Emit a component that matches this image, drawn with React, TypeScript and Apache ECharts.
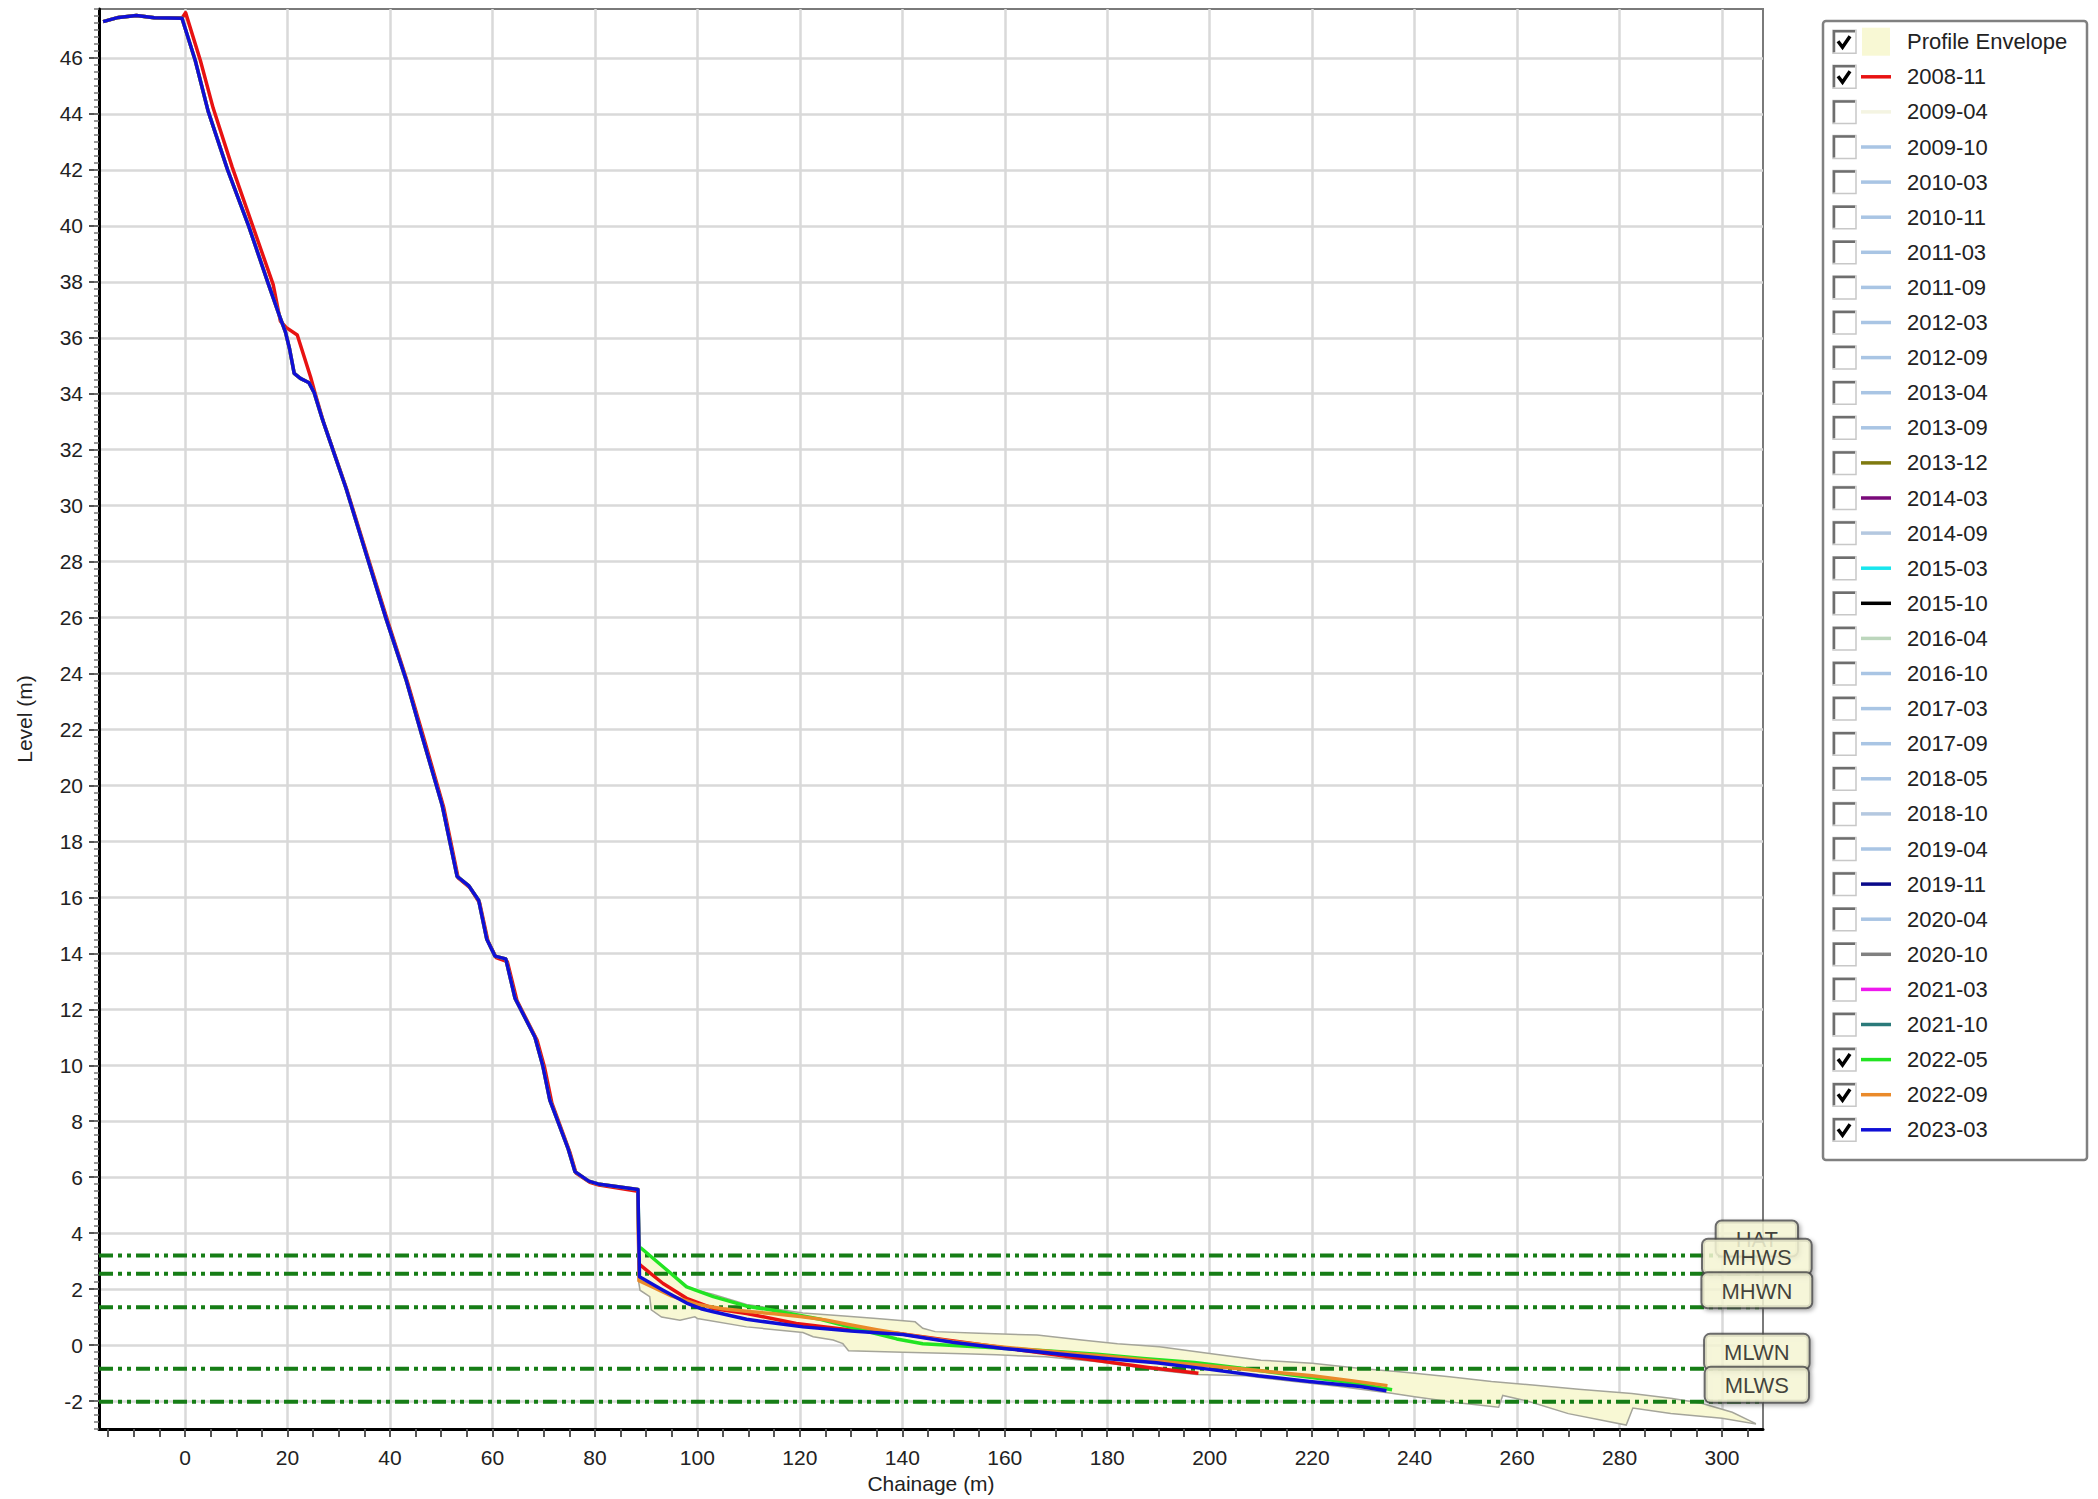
import { useEffect, useRef } from 'react';
import * as echarts from 'echarts';

// ---------- axis ticks ----------
const X_LABELS = [0, 20, 40, 60, 80, 100, 120, 140, 160, 180, 200, 220, 240, 260, 280, 300];
const Y_LABELS = [-2, 0, 2, 4, 6, 8, 10, 12, 14, 16, 18, 20, 22, 24, 26, 28, 30, 32, 34, 36, 38, 40, 42, 44, 46];
const X_MIN = -16.8;
const X_MAX = 308;
const Y_MIN = -3;
const Y_MAX = 47.75;

// ---------- legend ----------
const LEGEND_NAMES = [
  'Profile Envelope', '2008-11', '2009-04', '2009-10', '2010-03', '2010-11', '2011-03', '2011-09',
  '2012-03', '2012-09', '2013-04', '2013-09', '2013-12', '2014-03', '2014-09', '2015-03', '2015-10',
  '2016-04', '2016-10', '2017-03', '2017-09', '2018-05', '2018-10', '2019-04', '2019-11', '2020-04',
  '2020-10', '2021-03', '2021-10', '2022-05', '2022-09', '2023-03',
];
const LEGEND_COLORS = [
  '#f7f7d3', '#e81212', '#f4f4e2', '#a9c5e4', '#a9c5e4', '#a9c5e4', '#a9c5e4', '#a9c5e4',
  '#a9c5e4', '#a9c5e4', '#a9c5e4', '#a9c5e4', '#7f7a10', '#7a0a7a', '#b4c8e0', '#18e6ee', '#000000',
  '#bcd6bc', '#a9c5e4', '#a9c5e4', '#a9c5e4', '#a9c5e4', '#b4c8e0', '#a9c5e4', '#0a0a8a', '#a9c5e4',
  '#808080', '#ee18ee', '#2a7a7a', '#22e422', '#ea8a2a', '#0f0fd6',
];
const CHECKED = [
  true, true, false, false, false, false, false, false,
  false, false, false, false, false, false, false, false, false,
  false, false, false, false, false, false, false, false, false,
  false, false, false, true, true, true,
];

// ---------- profile data (chainage m, level m) ----------
const CLIFF_COMMON: number[][] = [
  [-16, 47.3], [-13, 47.45], [-9.5, 47.52], [-6, 47.44], [-0.6, 47.42], [2, 45.9], [4.5, 44.1],
  [8.3, 42.0], [12.4, 40.0], [16.3, 37.9], [18.4, 36.8], [19.6, 36.2], [20.4, 35.6], [21.3, 34.73],
  [22.5, 34.55], [24.2, 34.39], [25.2, 34.04], [26.8, 33.09], [31.4, 30.63], [35.3, 28.3],
  [39.2, 25.98], [43.1, 23.8], [46.3, 21.74], [50.2, 19.28], [53.1, 16.75], [55.4, 16.41],
  [57.3, 15.9], [58.9, 14.5], [60.5, 13.9], [62.6, 13.8], [64.4, 12.4], [68.3, 11.0], [69.8, 10.0],
  [71.2, 8.75], [74.8, 7.0], [76.1, 6.2], [78.8, 5.86], [80.6, 5.76], [88.4, 5.56],
];
const RED_2008_11: number[][] = [
  [-16, 47.3], [-13, 47.45], [-9.5, 47.52], [-6, 47.44], [-0.5, 47.45], [0.1, 47.62], [3, 45.9],
  [5.5, 44.2], [9.2, 42.1], [13.2, 40.0], [17.2, 37.9], [18.6, 36.6], [19.7, 36.37], [21.9, 36.1],
  [24.5, 34.6], [25.4, 34.0], [27.0, 33.0], [31.7, 30.5], [35.6, 28.2], [39.5, 25.9], [43.4, 23.7],
  [46.6, 21.7], [50.5, 19.2], [53.3, 16.7], [55.6, 16.35], [57.5, 15.8], [59.1, 14.45], [60.7, 13.85],
  [62.9, 13.7], [64.8, 12.3], [68.7, 10.9], [70.2, 9.9], [71.6, 8.65], [75.1, 6.9], [76.3, 6.15],
  [79, 5.82], [80.8, 5.72], [88.4, 5.5], [88.6, 2.9], [89.1, 2.82], [93.3, 2.2], [97.9, 1.67],
  [103.1, 1.31], [109.6, 1.13], [119.3, 0.77], [129.1, 0.56], [138.9, 0.42], [148.6, 0.18],
  [158.4, -0.06], [168, -0.3], [178, -0.55], [188, -0.8], [197.8, -1.01],
];
const GREEN_BEACH_2022_05: number[][] = [
  [88.6, 3.5], [89.1, 3.45], [93.3, 2.8], [97.9, 2.08], [103.1, 1.73], [109.6, 1.39], [114.5, 1.25],
  [119.3, 1.08], [124, 0.92], [129.1, 0.68], [134, 0.45], [138.9, 0.22], [144, 0.05], [150, -0.02],
  [158, -0.1], [168, -0.2], [178, -0.33], [187, -0.48], [197, -0.62], [207, -0.85], [216.5, -1.08],
  [226, -1.3], [235.6, -1.6],
];
const ORANGE_BEACH_2022_09: number[][] = [
  [88.6, 2.3], [91, 2.1], [95, 1.75], [100, 1.45], [105, 1.3], [110, 1.2], [115, 1.12], [120, 1.02],
  [125, 0.9], [130, 0.72], [135, 0.55], [140, 0.4], [145, 0.25], [150, 0.12], [160, -0.08],
  [170, -0.25], [180, -0.4], [190, -0.58], [200, -0.75], [210, -0.92], [220, -1.1], [228, -1.28],
  [234.7, -1.45],
];
const BLUE_BEACH_2023_03: number[][] = [
  [88.7, 2.44], [93.3, 1.96], [97.9, 1.5], [100.7, 1.3], [103.1, 1.19], [109.6, 0.92], [120.6, 0.65],
  [130, 0.5], [140.1, 0.38], [149.8, 0.1], [159.8, -0.12], [169.7, -0.3], [179.7, -0.48],
  [189.6, -0.63], [199.6, -0.86], [209.5, -1.1], [219.5, -1.3], [229.4, -1.48], [234.5, -1.63],
];

const ENVELOPE_UPPER: number[][] = [
  [88.5, 3.5], [89.1, 3.45], [93.3, 2.8], [97.9, 2.1], [100, 1.95], [103, 1.82], [109.6, 1.45],
  [115, 1.3], [120.6, 1.15], [128, 1.05], [135, 0.95], [142.5, 0.83], [144, 0.6], [146.4, 0.48],
  [155, 0.42], [166.3, 0.36], [175, 0.18], [182, 0.05], [190.2, -0.06], [200, -0.3], [210, -0.54],
  [220, -0.65], [230, -0.85], [237, -0.95], [246.8, -1.13], [255, -1.3], [263, -1.43], [272, -1.58],
  [282.4, -1.73], [290, -1.9], [296, -2.08], [302, -2.4], [306.5, -2.8],
];
const ENVELOPE_LOWER: number[][] = [
  [306.5, -2.82], [300, -2.62], [290, -2.45], [282.6, -2.25], [281.3, -2.86], [270, -2.45],
  [262, -2.0], [257.2, -1.8], [256.4, -2.22], [248, -2.05], [240, -1.85], [235.5, -1.72],
  [225, -1.47], [216.5, -1.3], [207, -1.1], [197.4, -1.05], [190, -0.9], [178.2, -0.6], [168, -0.42],
  [158.4, -0.35], [152, -0.31], [140.1, -0.26], [129.5, -0.2], [128.4, 0.05], [126.5, 0.18],
  [122.6, 0.3], [120.6, 0.45], [109.6, 0.65], [100, 0.95], [99.5, 1.01], [96.6, 0.89], [93, 1.0],
  [91, 1.26], [90.7, 1.73], [88.8, 1.96], [88.5, 2.3],
];

// ---------- tide levels ----------
const TIDE_NAMES = ['HAT', 'MHWS', 'MHWN', 'MLWN', 'MLWS'];
const TIDE_VALUES = [3.2, 2.55, 1.35, -0.85, -2.03];

const FONT = '"Liberation Sans", Arial, sans-serif';
const ENVELOPE_FILL = '#f8f8d4';
const TIDE_LABEL_X = 306.8;

const PROFILES: Record<string, number[][]> = {
  '2008-11': RED_2008_11,
  '2022-05': [...CLIFF_COMMON, ...GREEN_BEACH_2022_05],
  '2022-09': [...CLIFF_COMMON, ...ORANGE_BEACH_2022_09],
  '2023-03': [...CLIFF_COMMON, ...BLUE_BEACH_2023_03],
};

const X_MINOR: number[] = [];
for (let v = -15; v <= 305; v += 5) X_MINOR.push(v);
const Y_MINOR: number[] = [];
for (let v = -3; v <= 47.75; v += 0.25) Y_MINOR.push(v);

// legend layout
const LEG_TOP = 27.7;
const LEG_ROW_H = 28;
const LEG_GAP = 7.1;

export default function App() {
  const ref = useRef<HTMLDivElement>(null);

  useEffect(() => {
    if (!ref.current) return;
    const chart = echarts.init(ref.current, null, { renderer: 'svg' });

    const series: any[] = [];
    series.push({
      type: 'custom',
      name: LEGEND_NAMES[0],
      z: 1,
      silent: true,
      itemStyle: { color: ENVELOPE_FILL },
      data: [[ENVELOPE_UPPER[0][0], ENVELOPE_UPPER[0][1]]],
      encode: { x: 0, y: 1 },
      renderItem: (params: any, api: any) => {
        if (params.dataIndex !== 0) return null;
        const pts = [...ENVELOPE_UPPER, ...ENVELOPE_LOWER].map((p) => api.coord(p));
        return {
          type: 'polygon',
          shape: { points: pts },
          style: { fill: ENVELOPE_FILL, stroke: '#a5a59a', lineWidth: 1.5 },
        };
      },
    });

    TIDE_VALUES.forEach((v, i) => {
      series.push({
        type: 'line',
        name: 'tide-' + TIDE_NAMES[i],
        z: 2,
        silent: true,
        symbol: 'none',
        data: [[X_MIN, v], [X_MAX, v]],
        lineStyle: { color: '#167d16', width: 4, type: [14, 5, 4, 5, 4, 5] },
      });
    });

    for (let i = 1; i < LEGEND_NAMES.length; i++) {
      const name = LEGEND_NAMES[i];
      series.push({
        type: 'line',
        name,
        z: 3,
        symbol: 'none',
        color: LEGEND_COLORS[i],
        itemStyle: { color: LEGEND_COLORS[i] },
        lineStyle: { color: LEGEND_COLORS[i], width: 3.5, join: 'round' },
        data: PROFILES[name] || [],
      });
    }

    series.push({
      type: 'scatter',
      name: 'tide-labels',
      z: 10,
      silent: true,
      symbolSize: 0,
      data: TIDE_NAMES.map((n, i) => [TIDE_LABEL_X, TIDE_VALUES[i], n]),
      label: {
        show: true,
        position: 'top',
        distance: 0,
        formatter: (p: any) => p.data[2],
        fontFamily: FONT,
        fontSize: 22,
        lineHeight: 22,
        color: '#111',
        backgroundColor: '#fbfbda',
        borderColor: '#4a4a4a',
        borderWidth: 2,
        borderRadius: 5,
        padding: [7, 19, 5, 19],
        shadowColor: 'rgba(0,0,0,0.35)',
        shadowBlur: 4,
        shadowOffsetX: 2,
        shadowOffsetY: 2,
      },
    });

    const graphics: any[] = [
      {
        type: 'rect',
        z: 0,
        silent: true,
        shape: { x: 1823, y: 21, width: 264, height: 1139, r: 3 },
        style: { fill: '#ffffff', stroke: '#808080', lineWidth: 2.5 },
      },
    ];
    for (let i = 0; i < LEGEND_NAMES.length; i++) {
      const cy = LEG_TOP + LEG_ROW_H / 2 + i * (LEG_ROW_H + LEG_GAP);
      const x0 = 1833;
      const y0 = cy - 11.5;
      graphics.push({
        type: 'rect',
        z: 10,
        silent: true,
        shape: { x: x0, y: y0, width: 23, height: 23 },
        style: { fill: '#ffffff', stroke: '#c8c8c8', lineWidth: 1.5 },
      });
      graphics.push({
        type: 'polyline',
        z: 11,
        silent: true,
        shape: { points: [[x0 + 1, y0 + 22], [x0 + 1, y0 + 1], [x0 + 22, y0 + 1]] },
        style: { stroke: '#6e6e6e', lineWidth: 2.5, fill: null },
      });
      if (CHECKED[i]) {
        graphics.push({
          type: 'polyline',
          z: 12,
          silent: true,
          shape: { points: [[x0 + 5, y0 + 11], [x0 + 9.5, y0 + 17], [x0 + 17, y0 + 6]] },
          style: { stroke: '#000000', lineWidth: 3.5, fill: null, lineJoin: 'miter' },
        });
      }
    }

    const option: any = {
      animation: false,
      backgroundColor: '#ffffff',
      textStyle: { fontFamily: FONT },
      grid: {
        left: 99,
        right: 335,
        top: 9,
        bottom: 70,
        show: true,
        borderColor: '#7a7a7a',
        borderWidth: 2,
      },
      legend: {
        orient: 'vertical',
        left: 1861,
        top: LEG_TOP,
        padding: 0,
        itemGap: LEG_GAP,
        itemWidth: 30,
        itemHeight: LEG_ROW_H,
        selectedMode: false,
        symbolKeepAspect: true,
        textStyle: {
          fontFamily: FONT,
          fontSize: 22,
          lineHeight: LEG_ROW_H,
          height: LEG_ROW_H,
          color: '#222',
          padding: [0, 0, 0, 11],
        },
        data: LEGEND_NAMES.map((n, i) =>
          i === 0
            ? { name: n, icon: 'path://M0,0H28V28H0Z', itemStyle: { color: ENVELOPE_FILL, borderWidth: 0 } }
            : {
                name: n,
                icon: 'path://M0,0H30V3.5H0Z',
                itemStyle: { color: LEGEND_COLORS[i], borderWidth: 0 },
              }
        ),
      },
      xAxis: [
        {
          type: 'value',
          min: X_MIN,
          max: X_MAX,
          name: 'Chainage (m)',
          nameLocation: 'middle',
          nameGap: 44,
          nameTextStyle: { fontFamily: FONT, fontSize: 21, color: '#222' },
          axisLine: { show: true, onZero: false, lineStyle: { color: '#000', width: 3 } },
          axisTick: { show: true, customValues: X_LABELS, length: 8, lineStyle: { color: '#555', width: 2 } },
          axisLabel: { customValues: X_LABELS, fontFamily: FONT, fontSize: 21, color: '#222', margin: 18 },
          splitLine: { show: true, lineStyle: { color: '#d9d9d9', width: 2.5 } },
        },
        {
          type: 'value',
          min: X_MIN,
          max: X_MAX,
          position: 'bottom',
          axisLine: { show: false, onZero: false },
          axisTick: { show: true, customValues: X_MINOR, length: 8, lineStyle: { color: '#555', width: 2 } },
          axisLabel: { show: false },
          splitLine: { show: false },
        },
      ],
      yAxis: [
        {
          type: 'value',
          min: Y_MIN,
          max: Y_MAX,
          name: 'Level (m)',
          nameLocation: 'middle',
          nameGap: 64,
          nameTextStyle: { fontFamily: FONT, fontSize: 21, color: '#222' },
          axisLine: { show: true, onZero: false, lineStyle: { color: '#000', width: 3 } },
          axisTick: { show: true, customValues: Y_LABELS, length: 10, lineStyle: { color: '#555', width: 2 } },
          axisLabel: { customValues: Y_LABELS, fontFamily: FONT, fontSize: 21, color: '#222', margin: 16 },
          splitLine: { show: true, lineStyle: { color: '#d9d9d9', width: 2.5 } },
        },
        {
          type: 'value',
          min: Y_MIN,
          max: Y_MAX,
          position: 'left',
          axisLine: { show: false, onZero: false },
          axisTick: { show: true, customValues: Y_MINOR, length: 5, lineStyle: { color: '#777', width: 1.5 } },
          axisLabel: { show: false },
          splitLine: { show: false },
        },
      ],
      series,
      graphic: graphics,
    };

    chart.setOption(option);
    return () => {
      chart.dispose();
    };
  }, []);

  return (
    <div
      ref={ref}
      style={{ position: 'fixed', left: 0, top: 0, width: 2098, height: 1499, background: '#fff' }}
    />
  );
}
